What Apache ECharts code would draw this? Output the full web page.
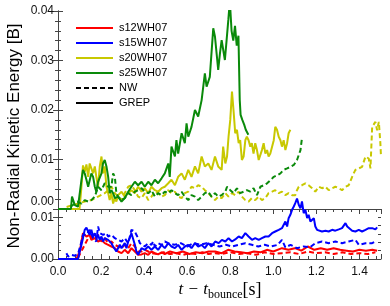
<!DOCTYPE html>
<html><head><meta charset="utf-8">
<script src="https://cdn.jsdelivr.net/npm/echarts@6/dist/echarts.min.js"></script>
<style>html,body{margin:0;padding:0;background:#fff}#c{width:390px;height:306px}</style>
</head><body><div id="c"></div>
<script>
const models = ['s12WH07','s15WH07','s20WH07','s25WH07'];
const runs = ['NW','GREP'];
const modelColors = ['#ff0000','#0000ff','#c8c800','#0a8a0a'];

const s12GREP = [[0,0],[0.085,0],[0.101,0.0018],[0.109,0.0042],[0.116,0.0062],[0.124,0.0066],[0.132,0.0054],[0.14,0.005],[0.147,0.0058],[0.155,0.0046],[0.171,0.005],[0.186,0.0042],[0.202,0.0046],[0.217,0.0038],[0.233,0.0034],[0.248,0.003],[0.264,0.0026],[0.279,0.0018],[0.295,0.0014],[0.31,0.0022],[0.326,0.0014],[0.341,0.0026],[0.357,0.0018],[0.372,0.001],[0.388,0.0011],[0.403,0.0014],[0.419,0.001],[0.434,0.0018],[0.45,0.0014],[0.465,0.0011],[0.481,0.0016],[0.496,0.0012],[0.52,0.0018],[0.55,0.0014],[0.58,0.0018],[0.61,0.0012],[0.64,0.0016],[0.67,0.0014],[0.7,0.0018],[0.73,0.0018],[0.76,0.0014],[0.79,0.0022],[0.82,0.0018],[0.85,0.0016],[0.88,0.0014],[0.91,0.0018],[0.94,0.0016],[0.97,0.0022],[1.0,0.0018],[1.04,0.0026],[1.07,0.0022],[1.1,0.0026],[1.13,0.002],[1.16,0.003],[1.19,0.0022],[1.22,0.0026],[1.25,0.0022],[1.28,0.0026],[1.31,0.0022],[1.34,0.002],[1.37,0.0018],[1.4,0.0022],[1.43,0.002],[1.46,0.0022],[1.482,0.002]];
const s12NW = [[0.093,0.0003],[0.116,0.0026],[0.124,0.003],[0.132,0.0042],[0.14,0.005],[0.155,0.0054],[0.171,0.0046],[0.186,0.0058],[0.202,0.0042],[0.217,0.005],[0.233,0.0038],[0.248,0.0042],[0.264,0.0034],[0.279,0.003],[0.295,0.0026],[0.31,0.0034],[0.326,0.0026],[0.341,0.0038],[0.357,0.003],[0.372,0.0018],[0.388,0.0018],[0.403,0.0022],[0.419,0.0018],[0.434,0.0014],[0.46,0.0012],[0.49,0.0016],[0.52,0.0012],[0.55,0.0014],[0.58,0.001],[0.61,0.0014],[0.64,0.0012],[0.67,0.0016],[0.7,0.0012],[0.73,0.0014],[0.76,0.0012],[0.8,0.0016],[0.84,0.0012],[0.88,0.0014],[0.92,0.001],[0.96,0.0016],[1.0,0.0012],[1.04,0.0014],[1.08,0.0016],[1.12,0.0012],[1.16,0.0018],[1.2,0.0014],[1.24,0.0016],[1.28,0.0012],[1.32,0.0016],[1.36,0.0012],[1.4,0.0014],[1.44,0.0012],[1.474,0.0016]];
const s15GREP = [[0,0],[0.093,0],[0.101,0.0018],[0.109,0.0034],[0.116,0.005],[0.124,0.007],[0.132,0.0075],[0.14,0.0066],[0.147,0.0058],[0.155,0.007],[0.163,0.0054],[0.171,0.0062],[0.178,0.005],[0.186,0.0058],[0.194,0.0046],[0.202,0.0054],[0.209,0.0042],[0.217,0.005],[0.225,0.0054],[0.233,0.0046],[0.248,0.0038],[0.256,0.003],[0.264,0.0026],[0.271,0.0018],[0.279,0.0022],[0.287,0.0034],[0.295,0.0026],[0.302,0.003],[0.31,0.0038],[0.318,0.0026],[0.326,0.0042],[0.333,0.005],[0.341,0.0062],[0.349,0.0058],[0.357,0.0034],[0.364,0.0018],[0.372,0.001],[0.38,0.0014],[0.388,0.0026],[0.395,0.003],[0.403,0.0022],[0.411,0.0018],[0.419,0.003],[0.426,0.0026],[0.434,0.0022],[0.45,0.003],[0.465,0.0022],[0.481,0.0034],[0.496,0.0026],[0.512,0.0038],[0.527,0.003],[0.543,0.0026],[0.558,0.0034],[0.574,0.0022],[0.589,0.003],[0.605,0.0034],[0.62,0.0026],[0.636,0.0038],[0.651,0.003],[0.667,0.0034],[0.682,0.0026],[0.698,0.0038],[0.713,0.003],[0.73,0.0042],[0.746,0.0038],[0.761,0.0046],[0.777,0.0042],[0.792,0.005],[0.808,0.0042],[0.823,0.0047],[0.839,0.0054],[0.854,0.005],[0.87,0.0062],[0.885,0.0054],[0.901,0.0046],[0.916,0.005],[0.932,0.0046],[0.947,0.005],[0.963,0.0054],[0.978,0.0054],[0.994,0.0062],[1.009,0.0066],[1.025,0.007],[1.04,0.0074],[1.056,0.009],[1.064,0.0078],[1.071,0.0098],[1.079,0.0106],[1.087,0.0118],[1.095,0.0126],[1.102,0.0134],[1.11,0.0145],[1.118,0.013],[1.126,0.0122],[1.133,0.0138],[1.141,0.011],[1.149,0.0118],[1.157,0.0098],[1.164,0.0106],[1.172,0.009],[1.18,0.0086],[1.188,0.0098],[1.195,0.0078],[1.203,0.007],[1.211,0.0066],[1.226,0.0066],[1.242,0.0068],[1.257,0.0066],[1.273,0.007],[1.288,0.0068],[1.304,0.0071],[1.319,0.0074],[1.335,0.0086],[1.343,0.0078],[1.35,0.0074],[1.366,0.0068],[1.381,0.0066],[1.397,0.007],[1.412,0.0066],[1.428,0.007],[1.443,0.0074],[1.459,0.0074],[1.474,0.0071],[1.482,0.0076]];
const s15NW = [[0.039,0.0014],[0.047,0.0006],[0.062,0.001],[0.078,0.0008],[0.093,0.0012],[0.109,0.0042],[0.116,0.0058],[0.132,0.0058],[0.147,0.007],[0.163,0.005],[0.178,0.0042],[0.186,0.0078],[0.194,0.0062],[0.209,0.0058],[0.225,0.0062],[0.233,0.0054],[0.248,0.0058],[0.264,0.005],[0.279,0.0046],[0.295,0.0042],[0.31,0.005],[0.326,0.0038],[0.333,0.0034],[0.341,0.007],[0.357,0.0066],[0.364,0.0058],[0.372,0.005],[0.38,0.0038],[0.388,0.0034],[0.403,0.003],[0.419,0.0038],[0.434,0.0034],[0.442,0.0042],[0.45,0.003],[0.465,0.0038],[0.481,0.0034],[0.496,0.0042],[0.512,0.0038],[0.54,0.0034],[0.57,0.0038],[0.6,0.003],[0.63,0.0038],[0.66,0.0034],[0.69,0.0038],[0.72,0.0034],[0.75,0.003],[0.78,0.0034],[0.81,0.003],[0.84,0.0034],[0.87,0.0038],[0.9,0.0034],[0.93,0.003],[0.96,0.0034],[0.99,0.003],[1.02,0.0034],[1.04,0.0046],[1.056,0.0028],[1.08,0.0034],[1.11,0.0026],[1.14,0.003],[1.17,0.0028],[1.195,0.0038],[1.226,0.0042],[1.257,0.0038],[1.288,0.0042],[1.319,0.0038],[1.35,0.0042],[1.381,0.0046],[1.397,0.0034],[1.428,0.0038],[1.459,0.0038],[1.474,0.0042]];
const s20GREP = [[0,0],[0.1,0],[0.108,0.004],[0.116,0.0088],[0.124,0.0075],[0.132,0.009],[0.14,0.0065],[0.147,0.0092],[0.155,0.0092],[0.163,0.0072],[0.171,0.0086],[0.178,0.0065],[0.186,0.0045],[0.194,0.0086],[0.202,0.0106],[0.209,0.0072],[0.217,0.0086],[0.225,0.0045],[0.233,0.0032],[0.24,0.0018],[0.248,0.0032],[0.256,0.0011],[0.264,0.0022],[0.271,0.0015],[0.279,0.0028],[0.295,0.0035],[0.31,0.0025],[0.326,0.0032],[0.341,0.0038],[0.357,0.0032],[0.372,0.0045],[0.388,0.0035],[0.403,0.0042],[0.419,0.0032],[0.434,0.0045],[0.45,0.0038],[0.465,0.0035],[0.481,0.0042],[0.496,0.0045],[0.512,0.0052],[0.527,0.0059],[0.543,0.0048],[0.558,0.0065],[0.574,0.0072],[0.589,0.0059],[0.605,0.0079],[0.62,0.0065],[0.636,0.0086],[0.651,0.0072],[0.667,0.0106],[0.682,0.0086],[0.698,0.0092],[0.713,0.0079],[0.729,0.0106],[0.744,0.0086],[0.76,0.0079],[0.767,0.0126],[0.777,0.0092],[0.785,0.0106],[0.792,0.0146],[0.8,0.018],[0.808,0.0237],[0.815,0.02],[0.823,0.0153],[0.831,0.016],[0.839,0.0133],[0.846,0.0139],[0.854,0.0099],[0.862,0.0106],[0.87,0.0139],[0.877,0.0146],[0.885,0.0139],[0.893,0.0126],[0.9,0.0133],[0.908,0.0112],[0.916,0.0133],[0.924,0.0119],[0.932,0.0099],[0.94,0.0095],[0.947,0.0119],[0.955,0.0133],[0.963,0.0112],[0.971,0.0119],[0.978,0.0106],[0.986,0.0112],[0.994,0.0112],[1.002,0.0139],[1.009,0.0166],[1.017,0.016],[1.025,0.0146],[1.033,0.0139],[1.04,0.0126],[1.048,0.0139],[1.056,0.0119],[1.064,0.0133],[1.071,0.0153],[1.079,0.016]];
const s20NW = [[0.04,0.0004],[0.07,0.0008],[0.1,0.0012],[0.124,0.0015],[0.155,0.0018],[0.186,0.0025],[0.217,0.0032],[0.233,0.0038],[0.248,0.0045],[0.264,0.0032],[0.279,0.0025],[0.295,0.0018],[0.31,0.0032],[0.326,0.0045],[0.341,0.0048],[0.357,0.0038],[0.372,0.0025],[0.388,0.0022],[0.403,0.0032],[0.419,0.0018],[0.434,0.0025],[0.45,0.0035],[0.465,0.0032],[0.481,0.0025],[0.496,0.0028],[0.512,0.0038],[0.527,0.0032],[0.543,0.0035],[0.558,0.0025],[0.574,0.0022],[0.589,0.0032],[0.605,0.0035],[0.62,0.0045],[0.636,0.0042],[0.651,0.0048],[0.667,0.0045],[0.682,0.0038],[0.698,0.0032],[0.713,0.0025],[0.729,0.0018],[0.744,0.0025],[0.76,0.0022],[0.777,0.0032],[0.792,0.0025],[0.808,0.0032],[0.823,0.0028],[0.839,0.0035],[0.854,0.0025],[0.87,0.0018],[0.885,0.0015],[0.9,0.0022],[0.916,0.0018],[0.932,0.0025],[0.947,0.0018],[0.963,0.0022],[0.978,0.0032],[0.994,0.0035],[1.009,0.0038],[1.025,0.0032],[1.04,0.0035],[1.056,0.0028],[1.071,0.0032],[1.087,0.0028],[1.102,0.0028],[1.11,0.0038],[1.118,0.0045],[1.133,0.0048],[1.149,0.0052],[1.164,0.0048],[1.18,0.0042],[1.195,0.0035],[1.211,0.0045],[1.226,0.0042],[1.242,0.0045],[1.257,0.0038],[1.273,0.0042],[1.288,0.0045],[1.304,0.0042],[1.319,0.0038],[1.335,0.0045],[1.35,0.0048],[1.366,0.0065],[1.381,0.0079],[1.397,0.0082],[1.412,0.0085],[1.428,0.0106],[1.443,0.0102],[1.451,0.0082],[1.459,0.0166],[1.474,0.0176],[1.482,0.0159],[1.49,0.0176],[1.497,0.0133],[1.5,0.0106]];
const s25GREP = [[0,0],[0.06,0],[0.065,0.0025],[0.078,0.0008],[0.093,0.0005],[0.109,0.0059],[0.116,0.0079],[0.124,0.0072],[0.132,0.0059],[0.14,0.0045],[0.147,0.0048],[0.155,0.0072],[0.163,0.0065],[0.171,0.0045],[0.178,0.0035],[0.186,0.0055],[0.194,0.0052],[0.202,0.0072],[0.209,0.0092],[0.217,0.0099],[0.225,0.0086],[0.233,0.0065],[0.24,0.0032],[0.248,0.0038],[0.256,0.0032],[0.264,0.0022],[0.271,0.0018],[0.279,0.0025],[0.295,0.0015],[0.31,0.0022],[0.326,0.0035],[0.341,0.0045],[0.357,0.0055],[0.372,0.0048],[0.388,0.0055],[0.403,0.0045],[0.419,0.0055],[0.434,0.0048],[0.45,0.0059],[0.465,0.0052],[0.481,0.0062],[0.496,0.0072],[0.512,0.0092],[0.519,0.0065],[0.527,0.0126],[0.543,0.0106],[0.55,0.0139],[0.558,0.0112],[0.574,0.0153],[0.589,0.0133],[0.597,0.0173],[0.605,0.0146],[0.62,0.0166],[0.636,0.02],[0.651,0.0187],[0.667,0.022],[0.682,0.0274],[0.69,0.0247],[0.705,0.0267],[0.721,0.0365],[0.729,0.0348],[0.744,0.0281],[0.752,0.0314],[0.76,0.0341],[0.775,0.0301],[0.783,0.0341],[0.791,0.0382],[0.798,0.042],[0.806,0.036],[0.814,0.034],[0.822,0.037],[0.83,0.033],[0.838,0.035],[0.844,0.022],[0.848,0.019],[0.856,0.018],[0.865,0.017],[0.872,0.016],[0.884,0.015]];
const s25NW = [[0.06,0.0005],[0.09,0.0015],[0.109,0.0011],[0.124,0.0018],[0.14,0.0015],[0.155,0.0018],[0.171,0.0025],[0.186,0.0045],[0.202,0.0038],[0.217,0.0052],[0.233,0.0045],[0.248,0.0045],[0.256,0.0072],[0.264,0.0065],[0.271,0.0032],[0.279,0.0025],[0.295,0.0018],[0.31,0.0022],[0.326,0.0032],[0.341,0.0028],[0.357,0.0035],[0.372,0.0038],[0.388,0.0042],[0.403,0.0035],[0.419,0.0032],[0.434,0.0038],[0.45,0.0025],[0.465,0.0032],[0.481,0.0028],[0.496,0.0035],[0.512,0.0032],[0.527,0.0038],[0.543,0.0032],[0.558,0.0028],[0.574,0.0035],[0.589,0.0025],[0.605,0.0018],[0.62,0.0028],[0.636,0.0025],[0.651,0.0018],[0.667,0.0025],[0.682,0.0032],[0.698,0.0035],[0.713,0.0025],[0.729,0.0032],[0.744,0.0025],[0.76,0.0028],[0.777,0.0035],[0.785,0.0045],[0.8,0.0038],[0.815,0.0032],[0.831,0.0042],[0.846,0.0032],[0.862,0.0035],[0.877,0.0038],[0.893,0.0035],[0.908,0.0042],[0.924,0.0028],[0.94,0.0045],[0.955,0.0048],[0.971,0.0052],[0.986,0.0058],[1.002,0.0065],[1.017,0.0068],[1.033,0.0072],[1.048,0.0079],[1.064,0.0082],[1.079,0.0085],[1.095,0.0089],[1.11,0.0099],[1.126,0.0119],[1.133,0.0143]];

const seriesData = {
  s12WH07: {NW: s12NW, GREP: s12GREP, panel: 1},
  s15WH07: {NW: s15NW, GREP: s15GREP, panel: 1},
  s20WH07: {NW: s20NW, GREP: s20GREP, panel: 0},
  s25WH07: {NW: s25NW, GREP: s25GREP, panel: 0}
};

const axisCol = '#444';
const labelFont = {fontFamily: 'Liberation Sans', fontSize: 12, color: '#111'};
const FONT = 'Liberation Sans';

function xAx(grid, pos, interval, major) {
  return {
    gridIndex: grid, type: 'value', min: 0, max: 1.5, interval: interval, position: pos,
    axisLine: {show: major, lineStyle: {color: axisCol, width: 1}},
    axisTick: {show: true, inside: true, length: major ? 5 : 3, lineStyle: {color: axisCol}},
    axisLabel: (major && pos === 'bottom') ? Object.assign({
      show: true, margin: 7,
      formatter: v => { const k = v / 0.2; return Math.abs(k - Math.round(k)) < 1e-6 ? v.toFixed(1) : ''; }
    }, labelFont) : {show: false},
    splitLine: {show: false}
  };
}
function yAx(grid, pos, min, max, interval, major, labels, fmt, minor) {
  return {
    gridIndex: grid, type: 'value', min: min, max: max, interval: interval, position: pos,
    axisLine: {show: major, lineStyle: {color: axisCol, width: 1}},
    axisTick: {show: true, inside: true, length: major ? 5 : 3, lineStyle: {color: axisCol}},
    minorTick: {show: !!minor, splitNumber: 5, length: 3, lineStyle: {color: axisCol}},
    axisLabel: labels ? Object.assign({show: true, margin: 4, formatter: fmt,
      rich: {z: {fontFamily: FONT, fontSize: 12, color: '#111', padding: [0, 0, 14, 0]}}}, labelFont) : {show: false},
    splitLine: {show: false}
  };
}
const topFmt = v => (Math.abs(v) < 1e-9 ? '{z|0.00}' : v.toFixed(2));
const botFmt = v => (Math.abs(v) < 1e-9 ? '0.00' : (Math.abs(v - 0.01) < 1e-9 ? '0.01' : ''));

const series = [];
models.forEach((m, i) => {
  const d = seriesData[m];
  runs.forEach(r => {
    series.push({
      name: m + ' ' + r, type: 'line', data: d[r], showSymbol: false, symbol: 'none',
      xAxisIndex: d.panel === 0 ? 0 : 1, yAxisIndex: d.panel === 0 ? 0 : 2,
      clip: d.panel === 0, animation: false,
      lineStyle: {color: modelColors[i], width: 2, type: r === 'NW' ? [5, 3] : 'solid'},
      itemStyle: {color: modelColors[i]}
    });
  });
});
// legend-only entries
models.forEach((m, i) => series.push({name: m, type: 'line', data: [], symbol: 'none', xAxisIndex: 0, yAxisIndex: 0,
  lineStyle: {color: modelColors[i], width: 2}, itemStyle: {color: modelColors[i]}}));
runs.forEach(r => series.push({name: r, type: 'line', data: [], symbol: 'none', xAxisIndex: 0, yAxisIndex: 0,
  lineStyle: {color: '#000', width: 2, type: r === 'NW' ? [5, 3] : 'solid'}, itemStyle: {color: '#000'}}));

const chart = echarts.init(document.getElementById('c'), null, {renderer: 'canvas'});
chart.setOption({
  animation: false,
  backgroundColor: '#fff',
  grid: [
    {left: 58, top: 11, width: 323, height: 198},
    {left: 58, top: 209, width: 323, height: 50}
  ],
  xAxis: [
    xAx(0, 'top', 0.2, true),
    xAx(1, 'bottom', 0.2, true),
    xAx(0, 'top', 0.04, false),
    xAx(1, 'bottom', 0.04, false)
  ],
  yAxis: [
    yAx(0, 'left', 0, 0.04, 0.01, true, true, topFmt, true),
    yAx(0, 'right', 0, 0.04, 0.01, true, false, null, true),
    yAx(1, 'left', 0, 0.012, 0.01, true, true, botFmt, false),
    yAx(1, 'right', 0, 0.012, 0.01, true, false, null, false),
    yAx(1, 'left', 0, 0.012, 0.002, false, false, null, false),
    yAx(1, 'right', 0, 0.012, 0.002, false, false, null, false)
  ],
  legend: {
    data: models.concat(runs), orient: 'vertical', left: 70, top: 16,
    itemWidth: 37, itemHeight: 14, itemGap: 1, selectedMode: false,
    itemStyle: {opacity: 0},
    textStyle: {fontFamily: FONT, fontSize: 11, color: '#000', lineHeight: 14, padding: [0, 0, 0, 1]}
  },
  graphic: [
    {type: 'text', x: 14, y: 136, rotation: Math.PI / 2,
      style: {text: 'Non-Radial Kinetic Energy [B]', fontFamily: FONT, fontSize: 17, fill: '#000', align: 'center', verticalAlign: 'middle'}},
    {type: 'text', x: 220, y: 290,
      style: {text: '{i|t − t}{s|bounce}{r|[s]}', align: 'center', verticalAlign: 'middle', fill: '#000',
        rich: {
          i: {fontFamily: 'Liberation Serif', fontStyle: 'italic', fontSize: 17, lineHeight: 22, verticalAlign: 'middle'},
          s: {fontFamily: 'Liberation Serif', fontSize: 12, lineHeight: 12, verticalAlign: 'bottom'},
          r: {fontFamily: 'Liberation Serif', fontSize: 18, lineHeight: 22, verticalAlign: 'middle'}
        }}}
  ],
  series: series
});
</script>
</body></html>
